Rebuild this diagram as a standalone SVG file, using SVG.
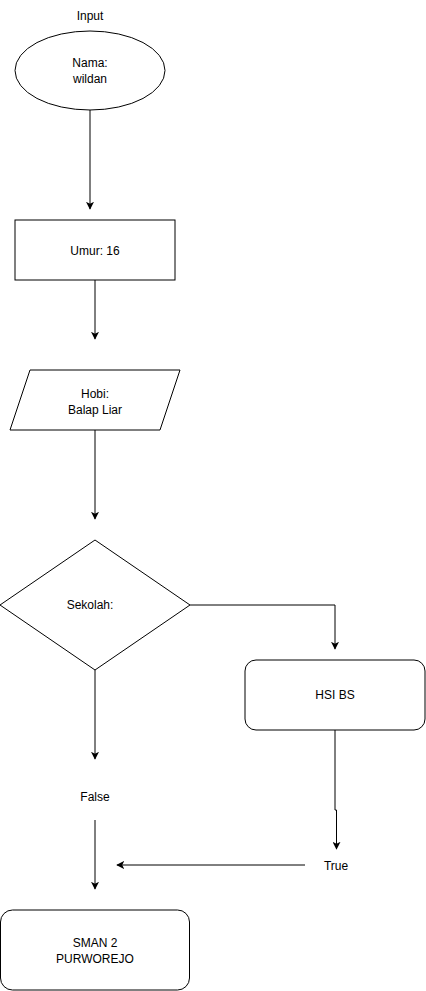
<svg xmlns="http://www.w3.org/2000/svg" width="426" height="991" viewBox="0 0 426 991">
<style>
.s{fill:#fff;stroke:#000;stroke-width:1}
.t{font-family:"Liberation Sans",Arial,sans-serif;font-size:12px;fill:#000;text-anchor:middle}
.c{fill:none;stroke:#000;stroke-width:1}
</style>
<defs>
<marker id="a" viewBox="0 0 10 10" refX="9" refY="5" markerWidth="8" markerHeight="8" markerUnits="userSpaceOnUse" orient="auto">
<path d="M0,0 L10,5 L0,10 L2.5,5 Z" fill="#000"/>
</marker>
</defs>
<rect width="426" height="991" fill="#fff"/>
<g id="connectors">
<path class="c" d="M90,110 V209" marker-end="url(#a)"/>
<path class="c" d="M95,280 V339" marker-end="url(#a)"/>
<path class="c" d="M95,430 V519" marker-end="url(#a)"/>
<path class="c" d="M190,605 H335 V649" marker-end="url(#a)"/>
<path class="c" d="M335,730 V810 H336.5 V849" marker-end="url(#a)"/>
<path class="c" d="M95,670 V759" marker-end="url(#a)"/>
<path class="c" d="M95,820 V889" marker-end="url(#a)"/>
<path class="c" d="M305,865 H117" marker-end="url(#a)"/>
</g>
<g id="input-label"><text class="t" x="90" y="20">Input</text></g>
<g id="nama">
<ellipse class="s" cx="90" cy="70.5" rx="75" ry="39.5"/>
<text class="t" x="90" y="67">Nama:</text>
<text class="t" x="90" y="83">wildan</text>
</g>
<g id="umur">
<rect class="s" x="15" y="220" width="160" height="60"/>
<text class="t" x="95" y="255">Umur: 16</text>
</g>
<g id="hobi">
<polygon class="s" points="30,370 180,370 160,430 10,430"/>
<text class="t" x="95" y="398">Hobi:</text>
<text class="t" x="95" y="414">Balap Liar</text>
</g>
<g id="sekolah">
<polygon class="s" points="95,540 190,605 95,670 0,605"/>
<text class="t" x="90" y="609">Sekolah:</text>
</g>
<g id="hsi">
<rect class="s" x="245" y="660" width="180" height="70" rx="11"/>
<text class="t" x="335" y="699">HSI BS</text>
</g>
<g id="false-label"><text class="t" x="95" y="801">False</text></g>
<g id="true-label"><text class="t" x="336" y="870">True</text></g>
<g id="sman">
<rect class="s" x="0.5" y="910" width="189" height="80" rx="12"/>
<text class="t" x="95" y="947">SMAN 2</text>
<text class="t" x="95" y="963">PURWOREJO</text>
</g>
</svg>
